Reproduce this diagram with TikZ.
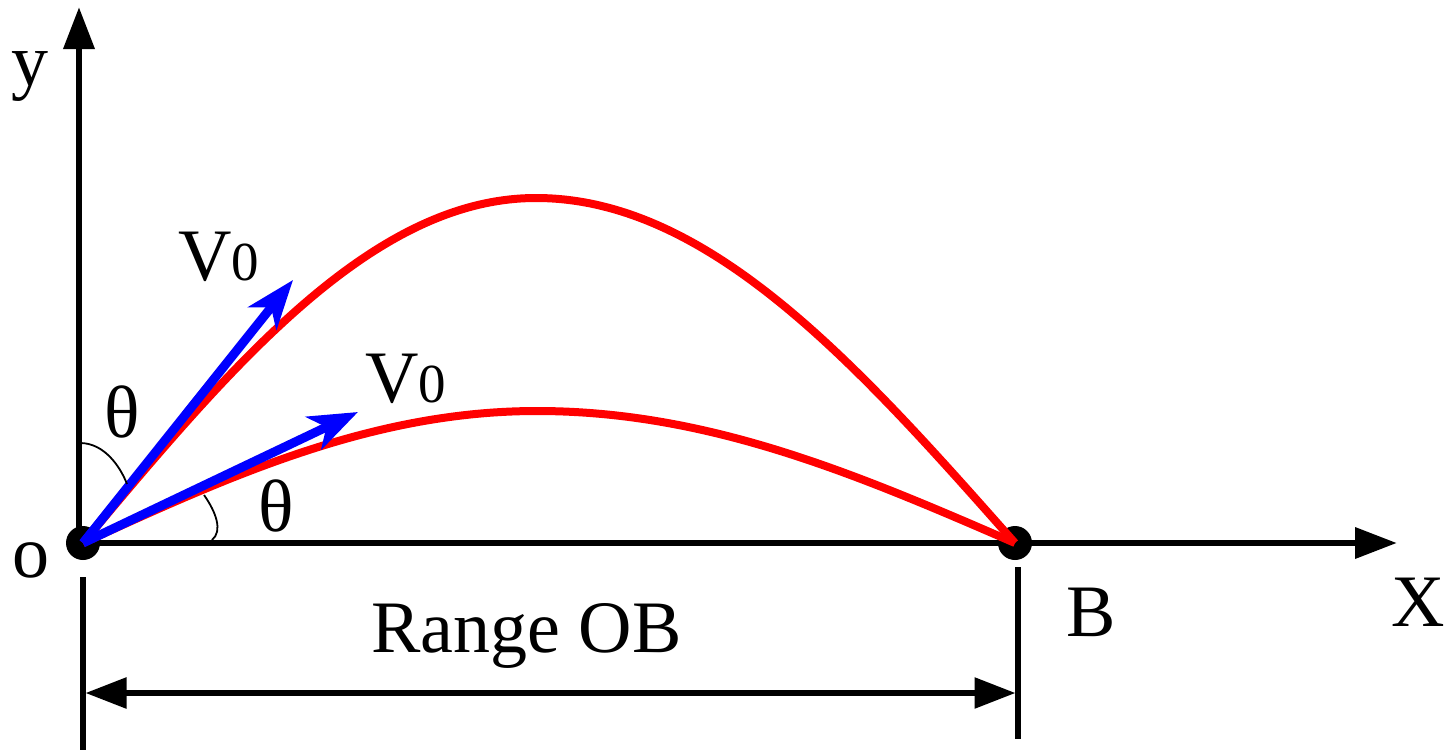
\documentclass[tikz,border=0pt]{standalone}
\usepackage{fontspec}
\setmainfont{Liberation Serif}
\usetikzlibrary{arrows.meta}
\definecolor{trajred}{RGB}{255,0,0}
\definecolor{velblue}{RGB}{0,0,255}
\tikzset{
  axisline/.style={line width=6.7pt,-{Triangle[length=42pt,width=30pt]}},
  tickline/.style={line width=5.5pt},
  dimline/.style={line width=5.7pt,{Triangle[length=41pt,width=30pt]}-{Triangle[length=41pt,width=30pt]}},
  dotnode/.style={circle,fill=black,inner sep=0pt,minimum size=34pt},
  traj/.style={trajred,line width=8pt},
  vel/.style={velblue,line width=9pt,-{Stealth[length=49pt,width=36pt,inset=14pt]}},
  anglearc/.style={line width=1.8pt},
  lbl/.style={inner sep=0pt,anchor=base west,font=\fontsize{74}{80}\selectfont},
}
\newcommand{\subz}{{\fontsize{55}{60}\selectfont 0}}
\begin{document}
\begin{tikzpicture}[x=1pt,y=-1pt]
\useasboundingbox (0,0) rectangle (1449,750);
% coordinates
\coordinate (ytop) at (79,7);
\coordinate (ybot) at (79,546);
\coordinate (xleft) at (76,543);
\coordinate (xright) at (1397,543);
\coordinate (P1) at (536,198);
\coordinate (P2) at (537,411);
\coordinate (T1) at (293,280);
\coordinate (T2) at (358,412);
\coordinate (tl1) at (83,577);
\coordinate (tl2) at (83,750);
\coordinate (tr1) at (1018,567);
\coordinate (tr2) at (1018,739);
\coordinate (dl) at (85.5,693);
\coordinate (dr) at (1015.5,693);
\coordinate (a1s) at (80,443);
\coordinate (a1e) at (127,484);
\coordinate (a2s) at (204,495);
\coordinate (a2e) at (212,540);
% axes
\draw[axisline] (ybot) -- (ytop);
\draw[axisline] (xleft) -- (xright);
% dots
\node[dotnode] (O) at (83,543) {};
\node[dotnode] (B) at (1015,543) {};
% trajectories
\draw[traj] (O.center) sin (P1) cos (B.center);
\draw[traj] (O.center) sin (P2) cos (B.center);
% velocity vectors
\draw[vel] (O.center) -- (T1);
\draw[vel] (O.center) -- (T2);
% angle arcs
\draw[anglearc] (a1s) .. controls (104,443) and (120,466) .. (a1e);
\draw[anglearc] (a2s) .. controls (216,512) and (223,531) .. (a2e);
% range dimension
\draw[tickline] (tl1) -- (tl2);
\draw[tickline] (tr1) -- (tr2);
\draw[dimline] (dl) -- (dr);
% labels
\node[lbl] (ylab) at (11,85) {y};
\node[lbl] (olab) at (12,577) {o};
\node[lbl] (xlab) at (1391,626) {X};
\node[lbl] (blab) at (1066,636) {B};
\node[lbl] (rlab) at (371,652) {Range OB};
\node[lbl] (th1) at (104,437) {θ};
\node[lbl] (th2) at (258,531) {θ};
\node[lbl] (v1) at (178,280) {V\subz};
\node[lbl] (v2) at (365,402) {V\subz};
\end{tikzpicture}
\end{document}
